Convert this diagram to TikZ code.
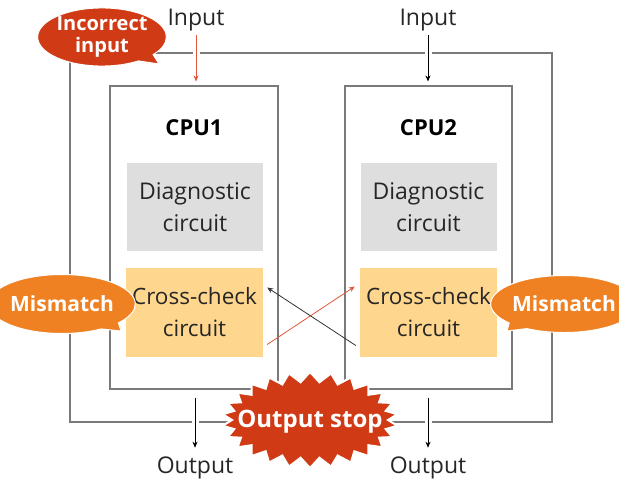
\documentclass[tikz,border=0pt]{standalone}
\usepackage{fontspec}
\setmainfont{Open Sans}
\usetikzlibrary{shapes.callouts,shapes.symbols,arrows.meta,calc}

\definecolor{framegray}{HTML}{7A7A7A}
\definecolor{diagfill}{HTML}{DEDEDE}
\definecolor{crossfill}{HTML}{FFD68E}
\definecolor{alertred}{HTML}{D03A14}
\definecolor{warnorange}{HTML}{EF8123}
\definecolor{arrowred}{HTML}{E0573A}

\tikzset{
  cpubox/.style={draw=framegray, line width=1.1pt, fill=white, inner sep=0pt},
  diagbox/.style={fill=diagfill, minimum width=136pt, minimum height=88pt, inner sep=0pt,
    align=center, font=\fontsize{23}{32}\selectfont, text=black!85},
  crossbox/.style={fill=crossfill, minimum width=137pt, minimum height=89pt, inner sep=0pt,
    align=center, font=\fontsize{22.5}{32}\selectfont, text=black!85},
  cputitle/.style={font=\fontsize{22}{26}\selectfont\bfseries},
  plainlabel/.style={font=\fontsize{23}{26}\selectfont, text=black!85, inner sep=1pt},
  flow/.style={-{Stealth[length=6pt,width=5pt]}, line width=0.8pt},
  halo/.style={preaction={draw=white, line width=7pt, -}},
  bubble/.style={ellipse callout, draw=white, line width=1pt, inner sep=0pt,
    text=white, align=center, callout pointer arc=18},
}

\begin{document}
\begin{tikzpicture}[x=1pt, y=-1pt]
  \useasboundingbox (0,0) rectangle (619,483);

  % outer monitoring loop
  \draw[framegray, line width=1.1pt] (70,53) rectangle (552,422);

  % the two processors
  \node[cpubox, minimum width=168pt, minimum height=303pt] (cpu1) at (194,237.5) {};
  \node[cpubox, minimum width=167pt, minimum height=303pt] (cpu2) at (428.5,237.5) {};
  \node[cputitle] (t1) at (194,128) {CPU1};
  \node[cputitle] (t2) at (428.5,128) {CPU2};

  \node[diagbox] (dg1) at (195,207) {Diagnostic\\circuit};
  \node[diagbox] (dg2) at (428.5,207) {Diagnostic\\circuit};
  \node[crossbox] (cc1) at (194.5,312.5) {Cross-check\\circuit};
  \node[crossbox] (cc2) at (428.5,312.5) {Cross-check\\circuit};

  % inputs (canvas yshift: positive is upward)
  \node[plainlabel] (in1) at (196,20) {Input};
  \node[plainlabel] (in2) at (428,20) {Input};
  \draw[flow, arrowred, halo, shorten <=3pt] (in1.south) -- ([yshift=4pt]in1.south |- cpu1.north);
  \draw[flow, black, halo, shorten <=3pt] (in2.south) -- ([yshift=4pt]in2.south |- cpu2.north);

  % outputs
  \node[plainlabel] (out1) at (195,468) {Output};
  \node[plainlabel] (out2) at (428,468) {Output};
  \draw[flow, black, halo] ([yshift=-8pt]out1.north |- cpu1.south) -- ([yshift=8pt]out1.north);
  \draw[flow, black, halo] ([yshift=-8pt]out2.north |- cpu2.south) -- ([yshift=8pt]out2.north);

  % cross-check exchange
  \draw[flow, arrowred] ($(cc1.east)+(4,32)$) -- ($(cc2.west)+(-5,-26)$);
  \draw[flow, black!80] ($(cc2.west)+(-4,33)$) -- ($(cc1.east)+(4,-25)$);

  % alerts
  \node[bubble, fill=alertred, minimum width=115pt, minimum height=57pt,
        callout absolute pointer={(159,64)},
        font=\fontsize{20}{22}\selectfont\bfseries] (bad) at (102,37) {Incorrect\\input};
  \node[bubble, fill=warnorange, minimum width=114pt, minimum height=59pt,
        callout absolute pointer={(121,331)},
        font=\fontsize{21}{24}\selectfont\bfseries] (mm1) at (62,304) {Mismatch};
  \node[bubble, fill=warnorange, minimum width=110pt, minimum height=57pt,
        callout absolute pointer={(507,331)},
        font=\fontsize{21}{24}\selectfont\bfseries] (mm2) at (564,304) {Mismatch};

  \node[starburst, starburst points=26, starburst point height=10pt, random starburst=0,
        fill=alertred, draw=white, line width=2pt, minimum width=176pt, minimum height=96pt,
        inner sep=0pt] (stop) at (310,420) {};
  \node[text=white, font=\fontsize{24}{28}\selectfont\bfseries, inner sep=0pt]
        (stoptext) at ([yshift=-2pt]stop.center) {Output stop};
\end{tikzpicture}
\end{document}
